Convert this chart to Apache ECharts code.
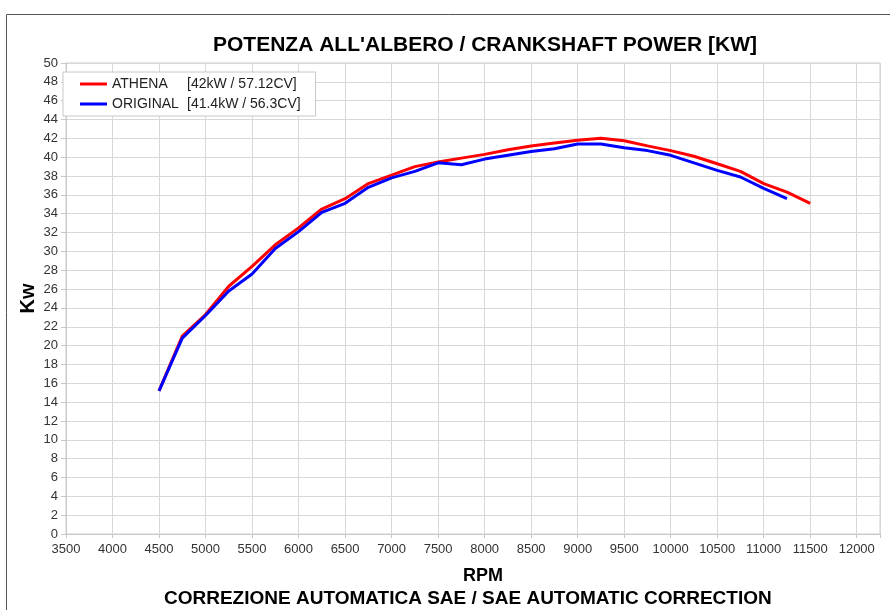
<!DOCTYPE html>
<html>
<head>
<meta charset="utf-8">
<script src="https://cdn.jsdelivr.net/npm/echarts@6/dist/echarts.min.js"></script>
<style>html,body{margin:0;padding:0;background:#fff;}#c{width:890px;height:610px;}</style>
</head>
<body>
<div id="c"></div>
<script>
var rpmAthena = [4500,4750,5000,5250,5500,5750,6000,6250,6500,6750,7000,7250,7500,7750,8000,8250,8500,8750,9000,9250,9500,9750,10000,10250,10500,10750,11000,11250,11500];
var kwAthena  = [15.2,21.0,23.3,26.3,28.4,30.7,32.5,34.5,35.6,37.2,38.1,39.0,39.5,39.9,40.3,40.8,41.2,41.5,41.8,42.0,41.75,41.2,40.7,40.1,39.3,38.5,37.2,36.3,35.1];
var rpmOriginal = [4500,4750,5000,5250,5500,5750,6000,6250,6500,6750,7000,7250,7500,7750,8000,8250,8500,8750,9000,9250,9500,9750,10000,10250,10500,10750,11000,11250];
var kwOriginal  = [15.2,20.8,23.2,25.8,27.6,30.3,32.1,34.15,35.1,36.8,37.8,38.5,39.4,39.2,39.8,40.2,40.6,40.9,41.4,41.4,41.0,40.7,40.2,39.4,38.6,37.9,36.7,35.6];
var seriesNames = ['ATHENA','ORIGINAL'];
var seriesInfo = ['[42kW / 57.12CV]','[41.4kW / 56.3CV]'];
var titleText = "POTENZA ALL'ALBERO / CRANKSHAFT POWER [KW]";
var subtitleText = "CORREZIONE AUTOMATICA SAE / SAE AUTOMATIC CORRECTION";
var xName = 'RPM';
var yName = 'Kw';

function pairs(xs, ys){ return xs.map(function(x,i){ return [x, ys[i]]; }); }
var FONT = '"Liberation Sans", Arial, sans-serif';

var chart = echarts.init(document.getElementById('c'), null, {renderer:'canvas'});
chart.setOption({
  animation:false,
  backgroundColor:'#ffffff',
  graphic:[{type:'rect', shape:{x:6.5,y:14.5,width:900,height:700}, style:{fill:'none', stroke:'#555', lineWidth:1}, silent:true, z:-1}],
  title:[
    {text:titleText, left:208, top:30, textStyle:{fontFamily:FONT, fontSize:21, fontWeight:'bold', color:'#000'}},
    {text:subtitleText, left:159, top:584, textStyle:{fontFamily:FONT, fontSize:19, fontWeight:'bold', color:'#000'}}
  ],
  legend:{
    orient:'vertical', left:63, top:72,
    backgroundColor:'#fff', borderColor:'#c8c8c8', borderWidth:1,
    padding:[5,15,5,17], itemGap:6,
    icon:'rect', itemWidth:27, itemHeight:3,
    data:seriesNames,
    formatter:function(n){ var i = seriesNames.indexOf(n); return '{a|'+n+'}{b|'+seriesInfo[i]+'}'; },
    textStyle:{fontFamily:FONT, fontSize:14, color:'#222', rich:{a:{width:75, fontFamily:FONT, fontSize:14, color:'#222'}, b:{fontFamily:FONT, fontSize:14, color:'#222'}}}
  },
  grid:{left:66, right:10, top:63, bottom:76, show:true, borderColor:'#d0d0d0', borderWidth:1},
  xAxis:{
    type:'value', min:3500, max:12250, interval:500,
    name:xName, nameLocation:'middle', nameGap:33,
    nameTextStyle:{fontFamily:FONT, fontSize:18, fontWeight:'bold', color:'#000', padding:[0,0,0,20]},
    axisLine:{show:true, lineStyle:{color:'#c8c8c8'}},
    axisTick:{show:true, length:4, lineStyle:{color:'#c8c8c8'}},
    axisLabel:{fontFamily:FONT, fontSize:13, color:'#333', margin:9, formatter:function(v){ return v % 500 === 0 && v <= 12000 ? String(v) : ''; }},
    splitLine:{show:true, lineStyle:{color:'#d8d8d8', width:1}}
  },
  yAxis:{
    type:'value', min:0, max:50, interval:2,
    name:yName, nameLocation:'middle', nameGap:28, nameRotate:90, nameMoveOverlap:false,
    nameTextStyle:{fontFamily:FONT, fontSize:20, fontWeight:'bold', color:'#000'},
    axisLine:{show:true, lineStyle:{color:'#c8c8c8'}},
    axisTick:{show:true, length:5, lineStyle:{color:'#c8c8c8'}},
    axisLabel:{fontFamily:FONT, fontSize:13, color:'#333', margin:8},
    splitLine:{show:true, lineStyle:{color:'#d8d8d8', width:1}}
  },
  series:[
    {name:seriesNames[0], type:'line', data:pairs(rpmAthena,kwAthena), showSymbol:false, symbol:'none', lineStyle:{color:'#ff0000', width:3}, itemStyle:{color:'#ff0000'}, z:3},
    {name:seriesNames[1], type:'line', data:pairs(rpmOriginal,kwOriginal), showSymbol:false, symbol:'none', lineStyle:{color:'#0000ff', width:3}, itemStyle:{color:'#0000ff'}, z:4}
  ]
});
</script>
</body>
</html>
